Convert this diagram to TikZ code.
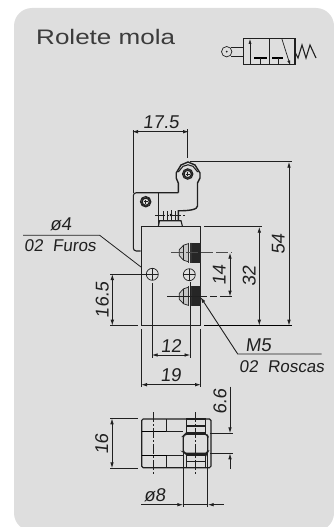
\documentclass[tikz,border=0pt]{standalone}
\usepackage{fontspec}
\setmainfont{Liberation Sans}
\newfontfamily\titlefont[FakeStretch=1.24]{Liberation Sans}
\newfontfamily\cadfont[FakeSlant=0.12]{Liberation Sans}
\usetikzlibrary{arrows.meta}
\definecolor{panelgray}{HTML}{DEDEDE}
\definecolor{inkdark}{HTML}{202020}
\definecolor{titlegray}{HTML}{3C3C3C}
\begin{document}
\begin{tikzpicture}[x=1pt,y=-1pt,line cap=butt,
    part/.style={draw=inkdark,line width=1.1pt},
    thin part/.style={draw=inkdark,line width=0.7pt},
    heavy/.style={draw=black,line width=1.7pt},
    ext/.style={draw=inkdark,line width=0.8pt},
    dim/.style={draw=inkdark,line width=0.9pt,{Latex[length=6pt,width=3.6pt]}-{Latex[length=6pt,width=3.6pt]}},
    lead/.style={draw=inkdark,line width=0.9pt,-{Latex[length=6pt,width=3.6pt]}},
    axis/.style={draw=inkdark,line width=0.7pt,dash pattern=on 10pt off 2pt on 2pt off 2pt},
    dimtext/.style={font=\fontsize{18.5}{18.5}\cadfont,text=inkdark,inner sep=0pt},
    notetext/.style={font=\fontsize{17}{17}\cadfont,text=inkdark,inner sep=0pt,anchor=west},
    crosshole/.pic={\draw[thin part] (0,0) circle (6); \draw[thin part] (-6,0) -- (6,0) (0,-6) -- (0,6);},
    pinhole/.pic={\draw[part] (0,0) circle (5.2) circle (3.6); \draw[thin part] (-2,0) -- (2,0) (0,-2) -- (0,2);}]
    % panel
    \useasboundingbox (0,0) rectangle (334,527);
    \fill[panelgray,rounded corners=18pt] (14,8) rectangle (334,531);
    \node[anchor=base west,inner sep=0pt,font=\fontsize{21}{21}\titlefont,text=titlegray] (title) at (36,45) {Rolete mola};
    % valve symbol
    \draw[thin part] (226.7,51.7) circle (5.2);
    \fill[inkdark] (226.7,51.7) circle (1);
    \draw[thin part] (231,47.3) -- (243.3,47.3) (231,56) -- (243.3,56);
    \draw[part] (243.3,38.3) rectangle (295,64.3);
    \draw[part] (269.3,38.3) -- (269.3,64.3);
    \draw[lead,line width=0.7pt,{Latex[length=5pt,width=3pt]}-] (250,38.8) -- (250,64.3);
    \draw[lead,line width=0.7pt,-{Latex[length=5pt,width=3pt]}] (281.7,38.3) -- (290.3,65.5);
    \draw[heavy] (254.3,58.3) -- (266.7,58.3);
    \draw[heavy] (272.3,58.3) -- (283.3,58.3);
    \draw[thin part] (260.5,58.3) -- (260.5,64.3) (278,58.3) -- (278,64.3);
    \draw[part] (295,52) -- (298,58) -- (302,45) -- (306,58) -- (310,45) -- (316,58);
    % lever and roller
    \draw[part,line width=1.4pt] (178.3,192.7) -- (178.3,183) -- (176.2,178) -- (176.2,173) -- (181,165) -- (188,162) -- (195,165) -- (200,173) -- (200,178) -- (197.5,183) -- (197.5,206) .. controls (197.5,209.5) and (190,210.8) .. (178.3,210.8) -- (178.3,220.7);
    \draw[part] (178.3,172) -- (183,166.3) -- (188,164.8) -- (193,166.3) -- (197.7,172);
    \pic at (187.7,174) {pinhole};
    % plate
    \draw[part,rounded corners=3pt] (140.7,251) -- (133.3,251) -- (133.3,192.7) -- (178.3,192.7);
    \draw[part] (158.3,192.7) -- (158.3,226.7);
    \pic at (145.7,201.7) {pinhole};
    % small screw
    \draw[axis] (155,215) -- (186,215);
    \draw[thin part] (163,211) -- (163,220.7) (167.3,211) -- (167.3,220.7) (175,211) -- (175,220.7);
    \fill[black] (171,215) circle (1.4);
    \draw[thin part] (171,210) -- (171,220);
    \draw[part] (158.3,226.7) -- (159.5,220.7) -- (181,220.7) -- (182.5,226.7);
    % body
    \draw[part] (141.3,226.7) rectangle (200.7,325.7);
    \draw[heavy,line width=1.3pt] (204,325.7) -- (292,325.7);
    \draw[ext] (141.3,329) -- (141.3,387) (200.7,329) -- (200.7,387);
    \pic at (152.3,274.3) {crosshole};
    \pic at (189.3,274.7) {crosshole};
    % fittings
    \foreach \yc in {252.7,296.3} {
      \fill[gray!45] (179.3,\yc-3) -- (183.5,\yc-7.5) -- (188.3,\yc-9) -- (188.3,\yc+9) -- (183.5,\yc+7.5) -- (179.3,\yc+3) -- cycle;
      \draw[thin part] (179.3,\yc-3) -- (183.5,\yc-7.5) -- (188.3,\yc-9) (179.3,\yc+3) -- (183.5,\yc+7.5) -- (188.3,\yc+9) (179.3,\yc-3) -- (179.3,\yc+3) (183.5,\yc-7.5) -- (183.5,\yc+7.5);
      \fill[black!85] (192,\yc-10) rectangle (200.7,\yc+10);
      \foreach \xs in {188.8,190.3,191.8} {\draw[draw=black!80,line width=1pt] (\xs,\yc-10) -- (\xs,\yc+10);}
    }
    \draw[draw=gray!60!black,line width=1.2pt,dash pattern=on 12pt off 3pt on 12pt off 3pt] (171,252.7) -- (232,252.7);
    \draw[ext,dash pattern=on 40pt off 3pt on 7pt off 3pt on 16pt off 2pt] (167,296.6) -- (232,296.6);
    % plan view
    \draw[part,rounded corners=1.5pt] (141.7,419) -- (211,419) -- (211,467.7) -- (141.7,467.7) -- cycle;
    \draw[heavy,line width=1.5pt] (141.7,431.7) -- (166.7,431.7) (141.7,455.7) -- (166.7,455.7);
    \draw[part] (166.7,431.7) -- (183.3,431.7) (166.7,455.7) -- (183.3,455.7);
    \draw[part] (166.7,419) -- (166.7,431.7) (166.7,455.7) -- (166.7,467.7);
    \draw[part] (186.7,419) rectangle (205.7,433) (186.7,426) -- (205.7,426);
    \draw[part] (186.7,455) rectangle (205.7,467.7) (186.7,461.7) -- (205.7,461.7);
    \draw[part,line width=1.3pt,rounded corners=1.5pt] (183.3,436) -- (185,434.3) -- (207,434.3) -- (207.7,436) -- (207.7,452) -- (207,453.3) -- (185,453.3) -- (183.3,452) -- cycle;
    \draw[axis] (153.3,412) -- (153.3,475);
    \draw[axis] (195.7,412) -- (195.7,475);
    % dimension 17.5
    \draw[ext] (133.3,130) -- (133.3,192.7) (187.7,129) -- (187.7,158);
    \draw[dim] (132,131.7) -- (189,131.7);
    \node[dimtext] (d175) at (161,122) {17.5};
    % dimension 54 and 32
    \draw[ext] (190,161.7) -- (292,161.7);
    \draw[ext] (204,226.7) -- (262,226.7);
    \draw[dim] (289,161.7) -- (289,325.7);
    \node[dimtext,rotate=90] (d54) at (278.3,244) {54};
    \draw[dim] (259.3,226.7) -- (259.3,325.7);
    \node[dimtext,rotate=90] (d32) at (249.3,276.7) {32};
    % dimension 14
    \draw[dim] (230,252.7) -- (230,296.6);
    \node[dimtext,rotate=90] (d14) at (219.3,275) {14};
    % dimension 16.5
    \draw[ext] (110,274) -- (146,274) (110,325.7) -- (138,325.7);
    \draw[dim] (112.3,274) -- (112.3,325.7);
    \node[dimtext,rotate=90] (d165) at (102.3,300) {16.5};
    % dimension 12 and 19
    \draw[ext] (152.3,283) -- (152.3,358) (190,282) -- (190,358);
    \draw[dim] (151.7,355) -- (190.5,355);
    \node[dimtext] (d12) at (171,346) {12};
    \draw[dim] (141,384.7) -- (201,384.7);
    \node[dimtext] (d19) at (170.7,375) {19};
    % leaders
    \draw[ext] (23,235.3) -- (99.7,235.3) -- (141,267);
    \node[dimtext] (hole) at (60.7,224) {ø4};
    \node[notetext] (holenote) at (24,245.5) {02\ \ Furos};
    \draw[lead] (321.7,354) -- (237.7,354) -- (200.5,297);
    \node[dimtext] (thread) at (258.3,345) {M5};
    \node[notetext] (threadnote) at (239,366.7) {02\ \ Roscas};
    % plan view dimensions
    \draw[ext] (110,418.3) -- (138,418.3) (110,468.3) -- (138,468.3);
    \draw[dim] (112,418.3) -- (112,468.3);
    \node[dimtext,rotate=90] (d16) at (101.7,444) {16};
    \draw[ext] (210,433.3) -- (233,433.3) (210,453.3) -- (233,453.3);
    \draw[lead] (230,386.7) -- (230,433.3);
    \draw[lead] (230,469) -- (230,453.3);
    \node[dimtext,rotate=90] (d66) at (220,401.7) {6.6};
    \draw[ext] (183.3,453.3) -- (183.3,507) (207.7,453.3) -- (207.7,507);
    \draw[lead] (141.3,504.7) -- (183.3,504.7);
    \draw[lead] (223.7,504.7) -- (207.7,504.7);
    \draw[ext] (183.3,504.7) -- (207.7,504.7);
    \node[dimtext] (d8) at (154.7,495) {ø8};
\end{tikzpicture}
\end{document}
